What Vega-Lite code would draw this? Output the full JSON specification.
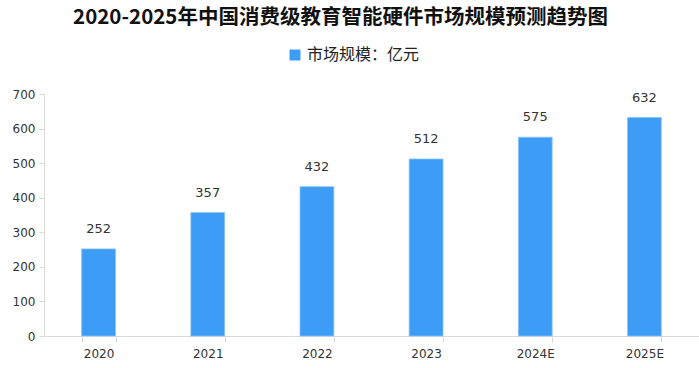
{
  "$schema": "https://vega.github.io/schema/vega-lite/v6.json",
  "autosize": "none",
  "width": 655,
  "height": 242,
  "padding": {"left": 44, "top": 94, "right": 0, "bottom": 32},
  "background": "#ffffff",
  "title": {
    "text": "2020-2025年中国消费级教育智能硬件市场规模预测趋势图",
    "anchor": "middle",
    "dx": -31,
    "offset": 19,
    "fontSize": 20.5,
    "font": "Noto Sans CJK SC",
    "fontWeight": "bold",
    "color": "#111111"
  },
  "config": {
    "view": {"stroke": null},
    "font": "Noto Sans CJK SC"
  },
  "data": {
    "values": [
      {"year": "2020", "value": 252, "series": "市场规模：亿元"},
      {"year": "2021", "value": 357, "series": "市场规模：亿元"},
      {"year": "2022", "value": 432, "series": "市场规模：亿元"},
      {"year": "2023", "value": 512, "series": "市场规模：亿元"},
      {"year": "2024E", "value": 575, "series": "市场规模：亿元"},
      {"year": "2025E", "value": 632, "series": "市场规模：亿元"}
    ]
  },
  "encoding": {
    "x": {
      "field": "year",
      "type": "nominal",
      "sort": null,
      "scale": {"paddingInner": 0.69, "paddingOuter": 0.345},
      "axis": {
        "title": null,
        "labelAngle": 0,
        "domainColor": "#d9d9d9",
        "tickColor": "#d9d9d9",
        "tickBand": "extent",
        "tickSize": 6,
        "labelPadding": 6,
        "labelFont": "DejaVu Sans",
        "labelFontSize": 12,
        "labelColor": "#333333",
        "grid": false
      }
    },
    "y": {
      "field": "value",
      "type": "quantitative",
      "scale": {"domain": [0, 700]},
      "axis": {
        "title": null,
        "values": [0, 100, 200, 300, 400, 500, 600, 700],
        "grid": false,
        "domainColor": "#d9d9d9",
        "tickColor": "#d9d9d9",
        "tickSize": 5,
        "labelPadding": 4,
        "labelFont": "DejaVu Sans",
        "labelFontSize": 12,
        "labelColor": "#333333"
      }
    }
  },
  "layer": [
    {
      "mark": {"type": "bar", "stroke": "#8cc4f8", "strokeWidth": 0.8},
      "encoding": {
        "color": {
          "field": "series",
          "type": "nominal",
          "scale": {"range": ["#3d9cf5"]},
          "legend": {
            "title": null,
            "orient": "none",
            "legendX": 243,
            "legendY": -47,
            "symbolType": "square",
            "symbolSize": 120,
            "symbolStrokeWidth": 0,
            "labelFontSize": 16,
            "labelFont": "Noto Sans CJK SC",
            "labelColor": "#222222"
          }
        }
      }
    },
    {
      "mark": {"type": "text", "baseline": "bottom", "dy": -13, "font": "DejaVu Sans", "fontSize": 13, "color": "#333333"},
      "encoding": {
        "text": {"field": "value", "type": "quantitative"}
      }
    }
  ]
}
